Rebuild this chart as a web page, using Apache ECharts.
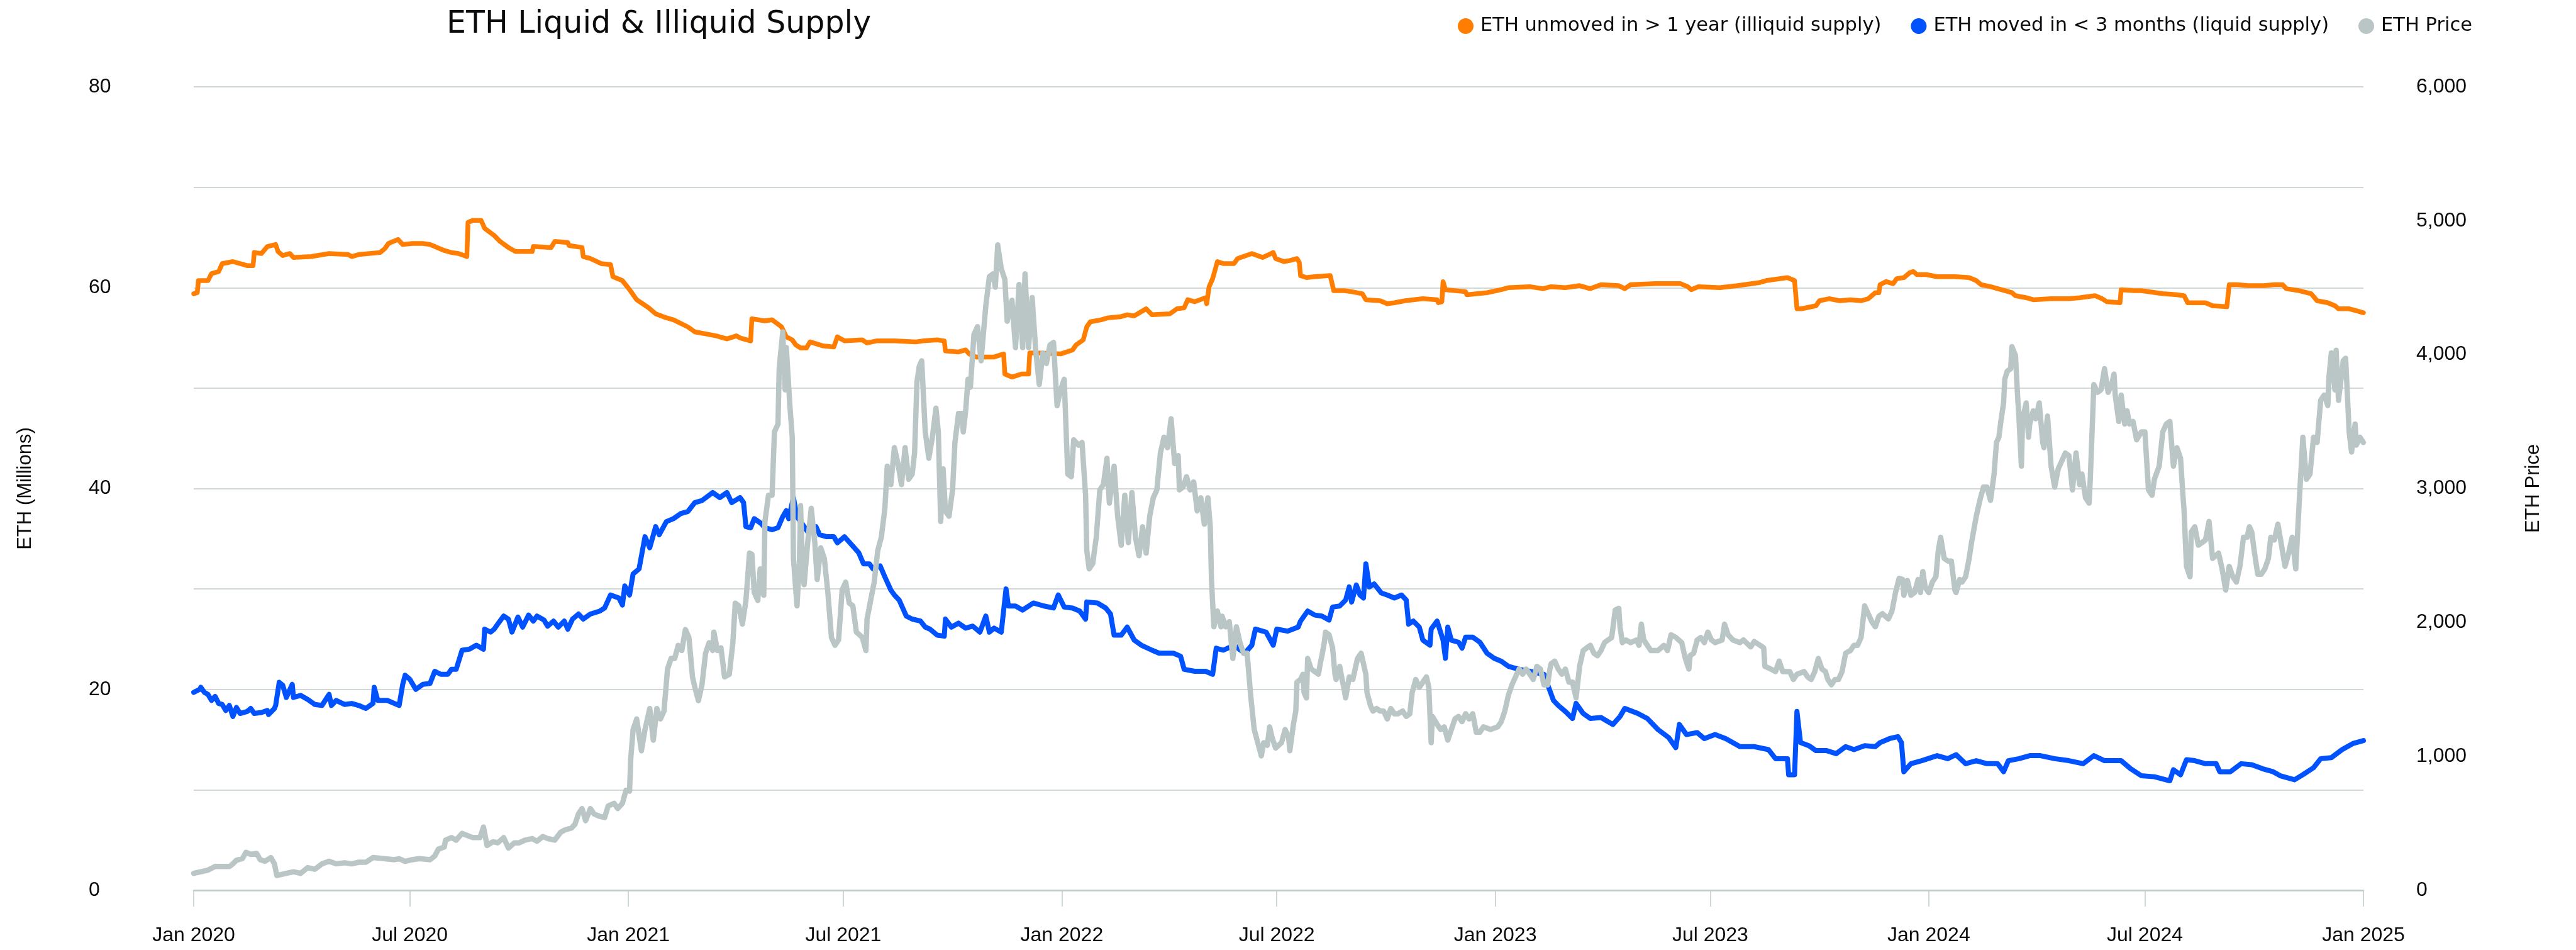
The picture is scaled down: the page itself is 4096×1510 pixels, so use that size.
<!DOCTYPE html>
<html><head><meta charset="utf-8">
<script src="https://cdn.jsdelivr.net/npm/echarts@6/dist/echarts.min.js"></script>
<style>html,body{margin:0;padding:0;background:#fff}#c{width:4096px;height:1510px}</style>
</head><body><div id="c"></div>
<script>
// x values are days since START
const START = Date.UTC(2020, 0, 1);
const DAY = 86400000;
const xTickDates = ['2020-01-01','2020-07-01','2021-01-01','2021-07-01','2022-01-01','2022-07-01','2023-01-01','2023-07-01','2024-01-01','2024-07-01','2025-01-01'];
const monthNames = ['Jan','Feb','Mar','Apr','May','Jun','Jul','Aug','Sep','Oct','Nov','Dec'];
const seriesNames = ['ETH unmoved in > 1 year (illiquid supply)', 'ETH moved in < 3 months (liquid supply)', 'ETH Price'];

// ETH unmoved in > 1 year (millions) [day, value]
const illiquid = [[0,59.4],[3,59.5],[4,60.7],[12,60.7],[15,61.4],[21,61.6],[24,62.4],[33,62.6],[45,62.2],[50,62.2],[51,63.5],[57,63.4],[62,64.1],[69,64.3],[71,63.6],[75,63.2],[81,63.4],[84,63.0],[99,63.1],[114,63.4],[130,63.3],[133,63.1],[139,63.3],[157,63.5],[161,63.9],[164,64.4],[172,64.8],[176,64.3],[184,64.4],[193,64.4],[199,64.3],[211,63.7],[217,63.5],[223,63.4],[230,63.1],[231,66.5],[235,66.7],[242,66.7],[245,65.9],[253,65.2],[258,64.6],[265,64.0],[271,63.6],[285,63.6],[286,64.1],[301,64.0],[304,64.6],[315,64.5],[316,64.2],[327,64.0],[328,63.1],[334,62.9],[343,62.4],[351,62.3],[353,61.1],[361,60.7],[367,59.8],[373,58.8],[383,58.0],[389,57.4],[398,57.0],[404,56.8],[416,56.1],[422,55.6],[431,55.4],[440,55.2],[449,54.9],[457,55.2],[460,55.0],[469,54.7],[470,56.9],[481,56.7],[487,56.8],[495,56.1],[499,55.1],[504,54.8],[507,54.3],[511,54.0],[516,54.0],[519,54.6],[530,54.2],[539,54.1],[542,55.1],[548,54.7],[563,54.8],[567,54.5],[575,54.7],[590,54.7],[608,54.6],[614,54.7],[626,54.8],[632,54.7],[633,53.7],[644,53.6],[650,53.8],[653,53.4],[659,53.1],[674,53.1],[682,53.4],[683,51.4],[689,51.1],[697,51.4],[703,51.4],[704,53.5],[710,53.5],[730,53.4],[740,53.8],[743,54.3],[749,54.8],[752,56.1],[755,56.6],[764,56.8],[770,57.0],[780,57.1],[786,57.3],[792,57.2],[802,57.9],[807,57.3],[822,57.4],[828,57.9],[834,58.0],[837,58.8],[843,58.6],[852,59.0],[853,58.4],[855,60.1],[858,60.9],[862,62.6],[867,62.4],[876,62.4],[879,62.9],[891,63.4],[900,63.0],[909,63.5],[911,62.9],[918,62.6],[923,62.7],[929,62.9],[931,62.5],[932,61.2],[937,61.0],[944,61.1],[957,61.2],[960,59.7],[969,59.7],[975,59.6],[984,59.4],[987,58.8],[999,58.7],[1005,58.4],[1011,58.5],[1020,58.7],[1035,58.9],[1047,58.8],[1048,58.5],[1051,58.6],[1052,60.6],[1054,59.8],[1071,59.6],[1072,59.3],[1089,59.5],[1101,59.8],[1107,60.0],[1125,60.1],[1136,59.9],[1143,60.1],[1155,60.0],[1167,60.2],[1176,59.9],[1185,60.3],[1200,60.2],[1205,59.9],[1210,60.3],[1231,60.4],[1252,60.4],[1258,60.1],[1261,59.8],[1267,60.1],[1285,60.0],[1300,60.2],[1318,60.5],[1324,60.7],[1342,61.0],[1348,60.7],[1350,57.9],[1354,57.9],[1366,58.2],[1369,58.7],[1377,58.9],[1386,58.7],[1395,58.8],[1404,58.7],[1410,58.9],[1416,59.5],[1419,59.5],[1420,60.3],[1425,60.6],[1431,60.4],[1434,60.9],[1440,61.0],[1445,61.5],[1448,61.6],[1451,61.3],[1459,61.3],[1468,61.1],[1483,61.1],[1495,61.0],[1501,60.7],[1505,60.3],[1513,60.1],[1522,59.8],[1531,59.5],[1534,59.2],[1543,59.0],[1549,58.8],[1564,58.9],[1579,58.9],[1588,59.0],[1601,59.2],[1607,58.9],[1611,58.6],[1622,58.5],[1623,59.8],[1634,59.7],[1640,59.7],[1658,59.4],[1670,59.3],[1676,59.2],[1679,58.5],[1694,58.5],[1700,58.2],[1712,58.1],[1714,60.3],[1721,60.3],[1730,60.2],[1743,60.2],[1752,60.3],[1759,60.3],[1762,59.9],[1773,59.7],[1783,59.4],[1788,58.7],[1797,58.5],[1803,58.2],[1806,57.9],[1815,57.9],[1821,57.7],[1827,57.5]];

// ETH moved in < 3 months (millions) [day, value]
const liquid = [[0,19.7],[5,20.0],[6,20.2],[9,19.7],[12,19.5],[15,18.9],[18,19.3],[21,18.6],[24,18.5],[27,17.9],[30,18.4],[33,17.3],[36,18.2],[39,17.6],[45,17.8],[48,18.1],[51,17.6],[57,17.7],[62,17.9],[63,17.5],[68,18.1],[69,18.4],[72,20.7],[75,20.4],[78,19.2],[83,20.5],[84,19.2],[90,19.4],[96,19.0],[102,18.5],[108,18.4],[114,19.5],[116,18.4],[120,18.9],[127,18.5],[133,18.6],[139,18.4],[145,18.1],[151,18.6],[152,20.2],[155,18.9],[163,18.9],[169,18.6],[173,18.4],[176,20.5],[178,21.4],[182,21.0],[187,20.0],[193,20.5],[199,20.6],[203,21.8],[208,21.5],[214,21.5],[217,22.0],[221,22.0],[226,23.9],[232,24.0],[238,24.4],[244,24.0],[245,26.0],[250,25.7],[253,26.0],[256,26.5],[261,27.3],[265,27.0],[268,25.7],[273,27.2],[277,26.2],[282,27.4],[286,26.8],[289,27.3],[295,26.9],[298,26.3],[303,26.8],[307,26.2],[312,26.8],[315,26.0],[319,27.0],[324,27.5],[328,27.0],[334,27.5],[342,27.8],[346,28.1],[351,29.4],[358,29.1],[361,28.4],[363,30.3],[367,29.4],[370,31.5],[375,32.0],[380,35.2],[384,34.1],[389,36.2],[392,35.4],[398,36.7],[404,37.0],[410,37.5],[416,37.7],[422,38.6],[428,38.8],[437,39.6],[443,39.1],[449,39.6],[453,38.6],[460,39.1],[463,38.6],[465,36.2],[469,36.1],[472,37.0],[478,36.5],[481,36.1],[487,35.9],[492,36.1],[496,37.2],[499,37.8],[501,37.0],[505,39.1],[508,37.2],[511,36.7],[517,35.7],[524,36.2],[527,35.4],[533,35.2],[539,35.2],[542,34.6],[548,35.2],[554,34.4],[560,33.6],[564,32.5],[569,32.5],[572,32.0],[578,32.3],[582,31.2],[587,29.9],[590,29.4],[594,28.9],[600,27.3],[605,27.0],[612,26.8],[616,26.2],[620,26.0],[626,25.4],[632,25.3],[633,27.0],[638,26.2],[644,26.6],[650,26.1],[656,26.3],[662,25.7],[667,27.3],[670,25.7],[674,26.1],[680,25.7],[684,30.0],[686,28.3],[692,28.3],[698,27.9],[707,28.6],[716,28.3],[724,28.1],[728,29.4],[733,28.2],[740,28.1],[746,27.8],[751,27.0],[752,28.7],[761,28.6],[768,28.1],[772,27.5],[775,25.4],[781,25.4],[786,26.2],[792,24.9],[798,24.4],[807,23.9],[813,23.6],[825,23.6],[831,23.3],[834,22.0],[843,21.8],[852,21.8],[858,21.5],[861,24.1],[867,23.9],[876,24.4],[885,23.6],[891,24.4],[894,26.0],[903,25.7],[909,24.4],[912,26.0],[921,25.8],[930,26.2],[932,26.8],[938,27.8],[944,27.4],[950,27.3],[956,26.9],[959,28.2],[965,28.3],[970,28.9],[973,30.2],[975,28.7],[979,30.4],[982,29.4],[985,29.1],[987,32.5],[990,30.2],[994,30.5],[1000,29.6],[1005,29.4],[1011,29.1],[1017,29.4],[1021,28.9],[1023,26.5],[1027,26.8],[1032,26.2],[1035,24.9],[1041,24.4],[1042,26.0],[1047,26.8],[1052,24.9],[1054,23.1],[1056,26.2],[1059,24.9],[1065,24.7],[1068,24.1],[1071,25.2],[1077,25.2],[1083,24.7],[1089,23.6],[1095,23.1],[1101,22.8],[1107,22.3],[1116,22.0],[1125,21.8],[1137,21.5],[1140,20.5],[1145,18.9],[1149,18.4],[1155,17.8],[1161,17.1],[1164,18.6],[1170,17.6],[1176,17.1],[1185,17.2],[1195,16.5],[1201,17.3],[1205,18.1],[1216,17.6],[1224,17.1],[1233,16.0],[1242,15.2],[1248,14.2],[1251,16.5],[1257,15.5],[1266,15.7],[1272,15.1],[1281,15.5],[1290,15.1],[1302,14.3],[1314,14.3],[1326,14.0],[1332,13.1],[1342,13.1],[1343,11.5],[1348,11.5],[1350,17.8],[1353,14.7],[1360,14.4],[1366,13.9],[1375,13.9],[1383,13.6],[1391,14.3],[1398,14.0],[1407,14.4],[1416,14.3],[1420,14.7],[1428,15.1],[1435,15.3],[1438,14.7],[1440,11.8],[1446,12.6],[1455,12.9],[1468,13.4],[1477,13.1],[1484,13.5],[1492,12.6],[1501,12.9],[1510,12.6],[1519,12.6],[1524,11.8],[1528,12.9],[1537,13.1],[1546,13.4],[1555,13.4],[1567,13.1],[1579,12.9],[1591,12.6],[1600,13.4],[1609,12.9],[1623,12.9],[1631,12.1],[1640,11.4],[1651,11.3],[1664,10.9],[1667,12.0],[1673,11.5],[1678,13.0],[1685,12.9],[1694,12.6],[1703,12.6],[1706,11.8],[1715,11.8],[1724,12.6],[1733,12.5],[1742,12.1],[1751,11.8],[1757,11.4],[1769,11.0],[1776,11.5],[1785,12.2],[1791,13.1],[1800,13.2],[1809,14.0],[1818,14.6],[1827,14.9]];

// ETH price (USD) [day, value]
const price = [[0,126],[6,138],[12,150],[18,177],[30,177],[33,197],[36,224],[41,236],[44,283],[48,268],[53,275],[56,228],[60,216],[65,244],[68,197],[70,110],[74,118],[78,126],[84,138],[90,126],[96,169],[102,157],[108,197],[114,216],[120,197],[127,205],[133,197],[139,209],[145,209],[151,244],[160,236],[169,228],[173,236],[178,216],[184,228],[190,236],[199,228],[203,256],[206,307],[211,323],[212,374],[217,393],[221,374],[226,425],[229,413],[235,393],[241,393],[244,472],[247,334],[252,362],[256,354],[261,393],[265,315],[270,354],[274,354],[279,374],[285,386],[289,366],[294,401],[298,386],[304,374],[309,433],[313,452],[318,464],[321,492],[324,570],[327,610],[330,519],[334,610],[337,570],[342,551],[346,543],[349,629],[354,649],[357,610],[361,649],[364,747],[367,740],[368,983],[370,1200],[373,1279],[377,1042],[380,1200],[384,1357],[387,1121],[390,1357],[393,1279],[396,1338],[399,1652],[402,1731],[405,1731],[408,1829],[411,1790],[414,1947],[417,1888],[420,1593],[422,1515],[425,1416],[428,1534],[431,1770],[434,1849],[437,1790],[438,1928],[441,1790],[444,1810],[447,1593],[451,1613],[454,1849],[456,2144],[459,2124],[462,1987],[465,2164],[468,2518],[470,2510],[472,2223],[475,2164],[477,2400],[480,2203],[481,2754],[484,2950],[487,2950],[489,3423],[492,3482],[493,3895],[496,4170],[498,3737],[499,4052],[502,3619],[504,3383],[505,2478],[507,2242],[508,2124],[510,2439],[511,2872],[513,2321],[514,2282],[517,2596],[520,2852],[523,2596],[525,2321],[528,2557],[531,2478],[534,2223],[537,1888],[540,1829],[543,1869],[546,2242],[549,2301],[552,2144],[555,2124],[558,1928],[563,1888],[566,1790],[567,2026],[570,2164],[573,2301],[576,2537],[579,2636],[582,2852],[584,3167],[587,3029],[590,3305],[593,3187],[596,3029],[599,3305],[602,3069],[605,3108],[607,3265],[609,3796],[611,3914],[613,3954],[616,3423],[619,3226],[622,3383],[625,3600],[627,3423],[629,2754],[631,3147],[633,2832],[636,2793],[639,2990],[641,3344],[644,3560],[647,3560],[648,3423],[650,3580],[652,3816],[654,3757],[657,4150],[660,4209],[663,3954],[667,4367],[670,4583],[673,4603],[675,4504],[677,4819],[680,4642],[683,4563],[685,4249],[689,4406],[692,4052],[695,4524],[698,4052],[700,4603],[703,4052],[706,4426],[709,4032],[712,3777],[715,4013],[718,3934],[721,4072],[724,4091],[727,3619],[730,3737],[733,3816],[736,3108],[739,3088],[741,3364],[745,3324],[748,3344],[751,2950],[752,2537],[754,2400],[757,2439],[760,2636],[763,2990],[766,3029],[769,3226],[771,2891],[775,3167],[778,2793],[781,2577],[784,2950],[787,2596],[790,2970],[793,2636],[796,2498],[799,2714],[802,2518],[805,2793],[808,2931],[811,2990],[814,3265],[817,3383],[820,3305],[823,3521],[826,3187],[829,3246],[830,2990],[833,3010],[836,3088],[839,2990],[842,3049],[845,2832],[848,2931],[851,2734],[854,2931],[856,2714],[857,2321],[859,1967],[862,2085],[865,1967],[866,2046],[869,1967],[872,2006],[875,1731],[878,1967],[881,1849],[884,1770],[887,1770],[890,1456],[893,1200],[896,1102],[899,1003],[901,1102],[904,1082],[906,1220],[908,1141],[911,1062],[916,1102],[919,1200],[922,1141],[923,1042],[926,1239],[928,1338],[929,1554],[932,1574],[934,1613],[935,1475],[937,1436],[938,1731],[941,1652],[944,1633],[947,1613],[949,1711],[950,1751],[952,1849],[953,1928],[956,1908],[959,1810],[961,1613],[962,1574],[965,1672],[967,1574],[968,1534],[970,1436],[973,1593],[976,1574],[977,1613],[980,1731],[983,1770],[987,1613],[988,1475],[991,1377],[993,1338],[996,1357],[999,1338],[1002,1338],[1005,1279],[1008,1357],[1011,1318],[1014,1318],[1018,1338],[1021,1298],[1024,1318],[1026,1475],[1029,1574],[1032,1515],[1035,1554],[1038,1593],[1040,1515],[1042,1102],[1043,1298],[1047,1239],[1050,1200],[1053,1220],[1056,1121],[1059,1200],[1062,1279],[1065,1298],[1068,1259],[1071,1318],[1074,1279],[1077,1318],[1080,1180],[1083,1180],[1086,1220],[1092,1200],[1098,1220],[1101,1259],[1104,1338],[1107,1456],[1110,1534],[1113,1593],[1116,1652],[1119,1613],[1122,1652],[1125,1613],[1128,1574],[1131,1672],[1134,1652],[1137,1534],[1140,1534],[1142,1652],[1143,1692],[1146,1711],[1149,1652],[1152,1613],[1155,1652],[1158,1554],[1161,1554],[1164,1436],[1167,1672],[1170,1790],[1173,1810],[1176,1829],[1179,1770],[1182,1751],[1185,1790],[1188,1849],[1191,1869],[1194,1888],[1197,2093],[1200,2105],[1201,1967],[1203,1849],[1206,1869],[1210,1849],[1215,1869],[1217,1829],[1219,1987],[1221,1869],[1224,1829],[1227,1790],[1233,1790],[1238,1829],[1241,1790],[1244,1908],[1248,1888],[1253,1849],[1256,1731],[1259,1652],[1260,1751],[1263,1770],[1266,1869],[1269,1888],[1272,1849],[1275,1928],[1278,1869],[1281,1849],[1287,1869],[1289,1987],[1292,1908],[1296,1869],[1302,1849],[1305,1869],[1311,1817],[1314,1857],[1319,1829],[1322,1810],[1323,1672],[1328,1652],[1332,1633],[1335,1711],[1338,1633],[1344,1633],[1347,1574],[1350,1613],[1356,1633],[1359,1593],[1362,1574],[1365,1633],[1368,1731],[1371,1652],[1374,1633],[1376,1574],[1379,1534],[1382,1574],[1385,1574],[1388,1633],[1391,1770],[1395,1790],[1398,1829],[1401,1829],[1404,1888],[1407,2124],[1410,2065],[1413,2006],[1416,1967],[1419,2046],[1422,2065],[1427,2026],[1430,2085],[1433,2223],[1436,2329],[1439,2321],[1440,2203],[1443,2313],[1446,2203],[1449,2223],[1452,2321],[1454,2223],[1456,2380],[1458,2262],[1461,2223],[1464,2301],[1467,2341],[1469,2537],[1471,2636],[1474,2478],[1477,2459],[1480,2459],[1483,2242],[1484,2223],[1487,2321],[1489,2301],[1492,2341],[1495,2478],[1497,2596],[1501,2793],[1504,2911],[1507,3010],[1510,3010],[1513,2911],[1516,3108],[1518,3344],[1520,3383],[1522,3521],[1524,3639],[1525,3816],[1527,3875],[1530,3895],[1531,4060],[1534,3993],[1536,3659],[1537,3521],[1539,3167],[1540,3521],[1543,3639],[1545,3383],[1546,3482],[1549,3580],[1551,3521],[1554,3639],[1557,3344],[1558,3305],[1561,3541],[1564,3167],[1567,3010],[1570,3147],[1573,3206],[1576,3265],[1579,3246],[1582,2990],[1585,3265],[1588,3029],[1590,3108],[1593,2931],[1596,2891],[1597,3069],[1600,3777],[1603,3718],[1606,3737],[1609,3895],[1612,3718],[1615,3777],[1617,3855],[1618,3698],[1621,3501],[1623,3698],[1626,3482],[1628,3580],[1630,3482],[1633,3501],[1636,3364],[1640,3423],[1643,3423],[1646,2990],[1649,2950],[1651,3069],[1655,3167],[1658,3423],[1661,3482],[1664,3501],[1667,3167],[1670,3305],[1673,3226],[1675,2950],[1676,2832],[1678,2419],[1681,2341],[1682,2675],[1685,2714],[1688,2577],[1691,2596],[1694,2616],[1697,2754],[1700,2478],[1705,2518],[1708,2400],[1711,2242],[1714,2419],[1717,2341],[1720,2301],[1723,2419],[1726,2636],[1729,2636],[1731,2714],[1733,2675],[1735,2537],[1738,2360],[1741,2360],[1744,2400],[1747,2478],[1749,2636],[1752,2616],[1755,2734],[1758,2577],[1761,2419],[1764,2518],[1767,2636],[1770,2400],[1773,2911],[1776,3383],[1779,3069],[1782,3108],[1785,3383],[1788,3344],[1791,3659],[1794,3698],[1797,3619],[1798,3836],[1800,4013],[1803,3737],[1804,4032],[1806,3659],[1809,3875],[1810,3954],[1812,3973],[1813,3973],[1815,3423],[1817,3273],[1820,3482],[1821,3324],[1824,3383],[1827,3344]];

const toXY = arr => arr.map(p => [START + p[0] * DAY, p[1]]);
const tickValues = xTickDates.map(s => Date.parse(s + 'T00:00:00Z'));

const GRID = '#bfcbca';
const TXT = '#0a0b0d';
const chart = echarts.init(document.getElementById('c'), null, {renderer: 'canvas'});
chart.setOption({
  animation: false,
  backgroundColor: '#ffffff',
  title: {
    text: 'ETH Liquid & Illiquid Supply', left: 705, top: 10,
    textStyle: {fontFamily: 'DejaVu Sans', fontSize: 49, fontWeight: 'normal', color: TXT}
  },
  legend: {
    left: 2313, top: 21, icon: 'circle', itemWidth: 37, itemHeight: 25, itemGap: 47,
    textStyle: {fontFamily: 'DejaVu Sans', fontSize: 30.5, color: TXT},
    data: seriesNames
  },
  grid: {left: 308, right: 338, top: 138, bottom: 95, containLabel: false},
  xAxis: {
    type: 'value', min: START, max: tickValues[tickValues.length - 1],
    splitLine: {show: false},
    axisLine: {show: true, lineStyle: {color: GRID, width: 2.5}},
    axisTick: {show: true, length: 26, lineStyle: {color: GRID, width: 1.5}, customValues: tickValues},
    axisLabel: {
      customValues: tickValues, margin: 56, fontFamily: 'Liberation Sans', fontSize: 32, color: TXT,
      hideOverlap: false, showMinLabel: true, showMaxLabel: true,
      formatter: v => { const d = new Date(v); return monthNames[d.getUTCMonth()] + ' ' + d.getUTCFullYear(); }
    }
  },
  yAxis: [{
    type: 'value', position: 'left', min: 0, max: 80, interval: 10,
    name: 'ETH (Millions)', nameLocation: 'middle', nameRotate: 90, nameGap: 252,
    nameTextStyle: {fontFamily: 'Liberation Sans', fontSize: 31, color: TXT},
    axisLine: {show: false}, axisTick: {show: false},
    axisLabel: {align: 'left', margin: 167, fontFamily: 'Liberation Sans', fontSize: 32, color: TXT,
      formatter: v => (v % 20 === 0 ? String(v) : '')},
    splitLine: {show: true, lineStyle: {color: GRID, width: 1.5}}
  }, {
    type: 'value', position: 'right', min: 0, max: 6000, interval: 1000,
    name: 'ETH Price', nameLocation: 'middle', nameRotate: 90, nameGap: 255,
    nameTextStyle: {fontFamily: 'Liberation Sans', fontSize: 31, color: TXT},
    axisLine: {show: false}, axisTick: {show: false},
    axisLabel: {align: 'left', margin: 84, fontFamily: 'Liberation Sans', fontSize: 32, color: TXT,
      formatter: v => v.toLocaleString('en-US')},
    splitLine: {show: false}
  }],
  series: [{
    name: seriesNames[0], type: 'line', yAxisIndex: 0, data: toXY(illiquid),
    showSymbol: false, symbol: 'none', color: '#ff7d00',
    lineStyle: {width: 7.5, color: '#ff7d00', join: 'round', cap: 'round'}, z: 2
  }, {
    name: seriesNames[1], type: 'line', yAxisIndex: 0, data: toXY(liquid),
    showSymbol: false, symbol: 'none', color: '#0052ff',
    lineStyle: {width: 8, color: '#0052ff', join: 'round', cap: 'round'}, z: 3
  }, {
    name: seriesNames[2], type: 'line', yAxisIndex: 1, data: toXY(price),
    showSymbol: false, symbol: 'none', color: '#bac6c5',
    lineStyle: {width: 8.5, color: '#bac6c5', join: 'round', cap: 'round'}, z: 4
  }]
});
</script>
</body></html>
